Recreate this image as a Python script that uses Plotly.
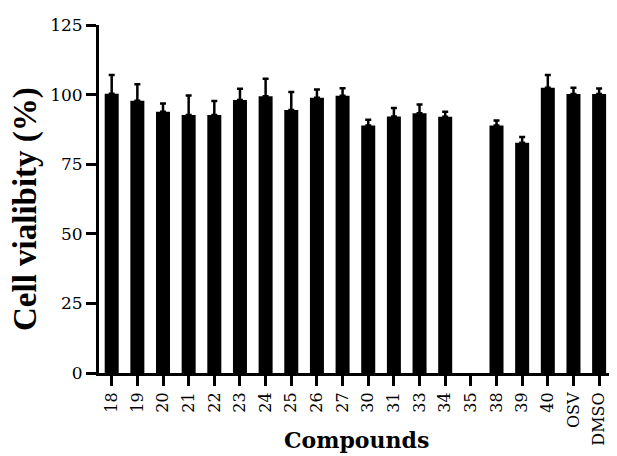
import plotly.graph_objects as go

compounds = ["18", "19", "20", "21", "22", "23", "24", "25", "26", "27", "30",
             "31", "33", "34", "35", "38", "39", "40", "OSV", "DMSO"]
viability = [100.3, 97.8, 93.8, 92.7, 92.7, 98.1, 99.4, 94.5, 98.9, 99.6, 88.9,
             92.1, 93.3, 92.0, None, 88.9, 82.7, 102.5, 100.2, 100.2]
error_up = [6.7, 5.9, 3.0, 7.0, 5.0, 4.0, 6.3, 6.4, 2.9, 2.7, 2.1,
            3.1, 3.1, 1.8, None, 1.8, 2.1, 4.5, 2.3, 2.0]
y_ticks = [0, 25, 50, 75, 100, 125]

fig = go.Figure()
fig.add_trace(go.Bar(
    x=compounds, y=viability,
    marker=dict(color="black", line=dict(width=0)),
    width=0.546,
    error_y=dict(type="data", symmetric=False, array=error_up,
                 arrayminus=[0] * len(error_up),
                 color="black", thickness=2.5, width=3),
))

fig.update_layout(
    width=609, height=448,
    margin=dict(l=91, r=3, t=17, b=83),
    paper_bgcolor="white", plot_bgcolor="white",
    showlegend=False,
    xaxis=dict(
        type="category",
        range=[-0.495, 19.58],
        showline=True, linecolor="black", linewidth=3,
        ticks="outside", ticklen=10, tickwidth=3, tickcolor="black",
        tickangle=-90,
        tickfont=dict(family="DejaVu Serif", size=16, color="black"),
        showgrid=False, zeroline=False,
    ),
    yaxis=dict(
        range=[0, 125],
        tickvals=y_ticks,
        showline=True, linecolor="black", linewidth=3,
        ticks="outside", ticklen=10, tickwidth=3, tickcolor="black",
        tickfont=dict(family="DejaVu Serif", size=17, color="black"),
        showgrid=False, zeroline=False,
    ),
    annotations=[
        dict(text="Cell vialibity (%)", xref="paper", yref="paper",
             x=0, y=0.5, xshift=-74, yshift=-10, textangle=-90,
             showarrow=False, xanchor="center", yanchor="middle",
             font=dict(family="Liberation Serif", size=33, color="black", weight="bold")),
        dict(text="Compounds", xref="paper", yref="paper",
             x=0.5, y=0, yshift=-67, showarrow=False,
             xanchor="center", yanchor="middle",
             font=dict(family="DejaVu Serif", size=22, color="black", weight="bold")),
    ],
)

fig.write_html("out.html")
